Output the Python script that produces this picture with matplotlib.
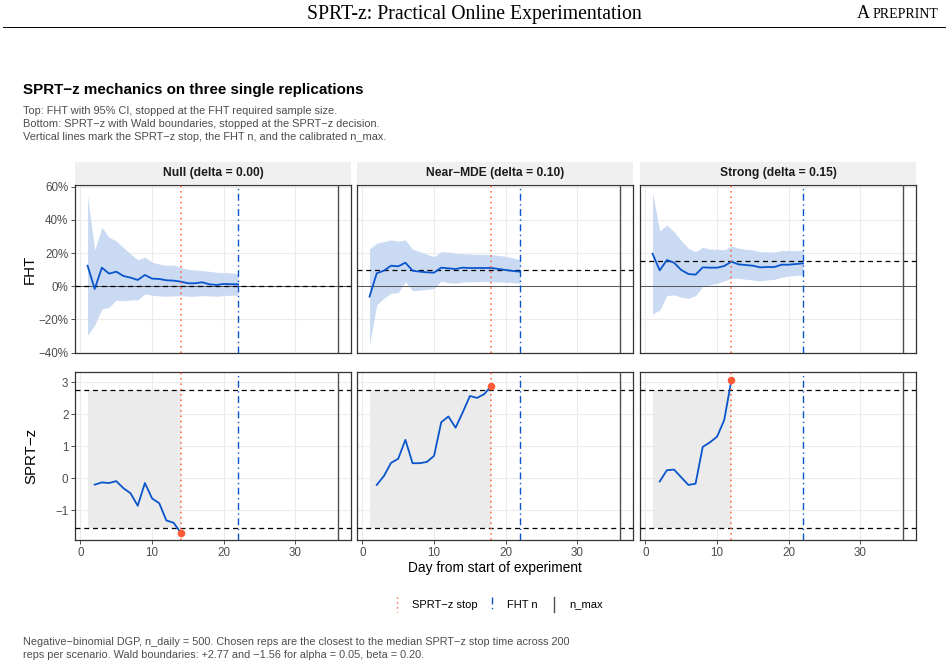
import numpy as np
import matplotlib.pyplot as plt
from matplotlib.lines import Line2D
from matplotlib.ticker import PercentFormatter

# ---- data ----
scenarios = ["Null (delta = 0.00)", "Near\u2212MDE (delta = 0.10)", "Strong (delta = 0.15)"]
deltas = [0.00, 0.10, 0.15]
stop_day = [14, 18, 12]
fht_n = [22, 22, 22]
n_max = 36
wald_upper = 2.77
wald_lower = -1.56

fht_days = list(range(1, 23))

null_est = [12.4, -1.6, 11.2, 7.6, 8.8, 6.2, 5.2, 3.8, 6.8, 4.6, 4.4, 3.6, 3.4, 2.8, 1.8, 1.8, 2.4, 1.2, 0.8, 1.4, 1.2, 1.2]
null_hi = [54.6, 21.9, 35.5, 29.5, 27.3, 23.3, 19.5, 15.9, 17.5, 14.5, 13.4, 12.6, 12.8, 11.4, 10.2, 9.8, 9.4, 9.0, 8.4, 8.2, 8.0, 7.8]
null_lo = [-29.5, -23.3, -13.7, -12.7, -8.3, -8.7, -8.3, -8.1, -4.6, -5.4, -5.8, -6.0, -5.8, -5.6, -6.0, -6.0, -5.6, -5.8, -6.0, -5.6, -5.4, -5.4]

mde_est = [-6.2, 7.8, 9.4, 12.4, 12.0, 14.2, 9.4, 8.8, 8.4, 8.2, 11.2, 10.8, 10.4, 11.2, 11.0, 11.0, 11.0, 11.0, 10.4, 9.8, 9.2, 8.8]
mde_hi = [22.5, 25.9, 26.9, 27.9, 27.1, 27.9, 22.3, 20.8, 19.3, 17.8, 20.8, 20.6, 19.8, 19.6, 19.4, 19.2, 19.2, 19.0, 18.6, 18.0, 17.0, 16.0]
mde_lo = [-35.0, -11.3, -7.2, -4.2, -3.8, 2.8, -2.7, -2.3, -1.9, -1.3, 3.2, 2.2, 1.8, 2.6, 2.6, 2.8, 2.8, 2.8, 2.6, 2.4, 2.2, 1.8]

strong_est = [19.6, 9.6, 15.8, 14.2, 9.8, 7.4, 7.0, 11.4, 11.2, 11.2, 12.2, 14.8, 13.2, 12.8, 12.4, 11.4, 11.6, 11.6, 13.0, 13.0, 13.4, 13.8]
strong_hi = [56.4, 33.3, 36.9, 32.9, 27.5, 22.9, 20.8, 23.5, 22.3, 22.3, 21.9, 24.3, 22.9, 22.3, 21.9, 20.8, 20.8, 20.6, 21.5, 21.5, 21.5, 21.5]
strong_lo = [-16.7, -14.3, -5.6, -5.2, -6.6, -7.2, -5.6, -0.2, 0.8, 1.8, 3.2, 4.8, 4.8, 4.2, 3.8, 3.2, 3.8, 4.2, 5.4, 6.2, 6.6, 6.6]

null_z = [-0.20, -0.13, -0.15, -0.09, -0.31, -0.47, -0.86, -0.15, -0.63, -0.78, -1.32, -1.39, -1.70]
mde_z = [-0.21, 0.07, 0.48, 0.61, 1.20, 0.47, 0.47, 0.51, 0.70, 1.75, 1.93, 1.58, 2.06, 2.57, 2.51, 2.63, 2.89]
strong_z = [-0.10, 0.25, 0.27, 0.03, -0.21, -0.17, 0.98, 1.12, 1.30, 1.82, 3.07]

fht_est = [null_est, mde_est, strong_est]
fht_hi = [null_hi, mde_hi, strong_hi]
fht_lo = [null_lo, mde_lo, strong_lo]
sprt_z = [null_z, mde_z, strong_z]

# ---- styling ----
BLUE = "#0a55cc"
RIBBON = "#c9daf2"
RED = "#ff5a36"
NMAX = "#4d4d4d"
GRID = "#ebebeb"
TICK = "#4d4d4d"
STOP_LS = (0, (1, 2.5))
FHT_LS = (0, (5, 2.5, 1, 2.5))
FONT = "Liberation Sans"
plt.rcParams['font.family'] = [FONT, 'DejaVu Sans']

W, H = 948, 667
fig = plt.figure(figsize=(W / 100, H / 100), dpi=100)


def box(x0, y0, x1, y1):
    return [x0 / W, 1 - y1 / H, (x1 - x0) / W, (y1 - y0) / H]


cols = [(75, 351), (357, 633), (640, 916)]
top_y = (185, 353)
bot_y = (372, 540)
strip_y = (162, 184)


def style(ax):
    ax.set_facecolor("white")
    ax.grid(True, color=GRID, linewidth=0.8)
    ax.set_axisbelow(True)
    for s in ax.spines.values():
        s.set_color("#333333")
        s.set_linewidth(0.9)
    ax.tick_params(colors="#333333", labelcolor=TICK, labelsize=8.4,
                   length=2.75, width=0.6, pad=2)
    ax.set_xlim(-0.75, 37.75)
    ax.set_xticks([0, 10, 20, 30])


for i, (x0, x1) in enumerate(cols):
    days = np.array(fht_days)
    est = np.array(fht_est[i]) / 100
    lo = np.array(fht_lo[i]) / 100
    hi = np.array(fht_hi[i]) / 100

    # top row: FHT with CI
    ax = fig.add_axes(box(x0, top_y[0], x1, top_y[1]))
    style(ax)
    ax.fill_between(days, lo, hi, color=RIBBON, linewidth=0, zorder=1)
    ax.axhline(0, color="#555555", linewidth=0.7, zorder=2)
    ax.axhline(deltas[i], color="black", linestyle=(0, (4, 3)), linewidth=0.9, zorder=3)
    ax.plot(days, est, color=BLUE, linewidth=1.3, zorder=4)
    ax.axvline(stop_day[i], color=RED, linestyle=STOP_LS, linewidth=1.1, zorder=5)
    ax.axvline(fht_n[i], color=BLUE, linestyle=FHT_LS, linewidth=1.0, zorder=5)
    ax.axvline(n_max, color=NMAX, linewidth=1.0, zorder=5)
    ax.set_ylim(-0.402, 0.61)
    ax.set_yticks([-0.4, -0.2, 0, 0.2, 0.4, 0.6])
    ax.yaxis.set_major_formatter(PercentFormatter(xmax=1, decimals=0))
    ax.tick_params(axis="x", labelbottom=False, length=0)
    if i == 0:
        ax.set_ylabel("FHT", fontsize=10.8, labelpad=1)
    else:
        ax.tick_params(axis="y", labelleft=False, length=0)

    # strip header
    sax = fig.add_axes(box(x0, strip_y[0], x1, strip_y[1]))
    sax.set_facecolor("#f0f0f0")
    sax.set_xticks([])
    sax.set_yticks([])
    for s in sax.spines.values():
        s.set_visible(False)
    sax.text(0.5, 0.5, scenarios[i], ha="center", va="center",
             fontsize=8.7, fontweight="bold", color="#1a1a1a", transform=sax.transAxes)

    # bottom row: SPRT-z path
    bx = fig.add_axes(box(x0, bot_y[0], x1, bot_y[1]))
    style(bx)
    zdays = np.arange(2, 2 + len(sprt_z[i]))
    bx.fill_between([1, stop_day[i]], wald_lower, wald_upper, color="#ebebeb",
                    linewidth=0, zorder=1)
    bx.axhline(wald_upper, color="black", linestyle=(0, (4, 3)), linewidth=0.9, zorder=3)
    bx.axhline(wald_lower, color="black", linestyle=(0, (4, 3)), linewidth=0.9, zorder=3)
    bx.plot(zdays, sprt_z[i], color=BLUE, linewidth=1.3, zorder=4)
    bx.axvline(stop_day[i], color=RED, linestyle=STOP_LS, linewidth=1.1, zorder=5)
    bx.axvline(fht_n[i], color=BLUE, linestyle=FHT_LS, linewidth=1.0, zorder=5)
    bx.axvline(n_max, color=NMAX, linewidth=1.0, zorder=5)
    bx.scatter([zdays[-1]], [sprt_z[i][-1]], s=30, color=RED, zorder=6, linewidths=0)
    bx.set_ylim(-1.93, 3.32)
    bx.set_yticks([-1, 0, 1, 2, 3])
    if i == 0:
        bx.set_ylabel("SPRT\u2212z", fontsize=10.8, labelpad=12)
    else:
        bx.tick_params(axis="y", labelleft=False, length=0)
    if i == 1:
        bx.set_xlabel("Day from start of experiment", fontsize=9.9, labelpad=2)

# ---- page header ----
fig.text(474 / W, 1 - 14 / H, "SPRT-z: Practical Online Experimentation", ha="center", va="center",
         fontsize=14.2, family="Liberation Serif")
fig.text(870 / W, 1 - 14 / H, "A", ha="right", va="center", fontsize=13, family="Liberation Serif")
fig.text(873 / W, 1 - 14.5 / H, "PREPRINT", ha="left", va="center", fontsize=10, family="Liberation Serif")
fig.add_artist(Line2D([3 / W, 945 / W], [1 - 27 / H, 1 - 27 / H], color="black", linewidth=0.7))

# ---- title, subtitle, caption ----
fig.text(23 / W, 1 - 90 / H, "SPRT\u2212z mechanics on three single replications", ha="left", va="center",
         fontsize=10.9, fontweight="bold", color="black")
subtitle = ["Top: FHT with 95% CI, stopped at the FHT required sample size.",
            "Bottom: SPRT\u2212z with Wald boundaries, stopped at the SPRT\u2212z decision.",
            "Vertical lines mark the SPRT\u2212z stop, the FHT n, and the calibrated n_max."]
for k, line in enumerate(subtitle):
    fig.text(23 / W, 1 - (111 + 13 * k) / H, line, ha="left", va="center", fontsize=7.95, color="#4d4d4d")

caption = ["Negative\u2212binomial DGP, n_daily = 500. Chosen reps are the closest to the median SPRT\u2212z stop time across 200",
           "reps per scenario. Wald boundaries: +2.77 and \u22121.56 for alpha = 0.05, beta = 0.20."]
for k, line in enumerate(caption):
    fig.text(23 / W, 1 - (642 + 13 * k) / H, line, ha="left", va="center", fontsize=7.85, color="#4d4d4d")

# ---- legend ----
legend_items = [("SPRT\u2212z stop", RED, STOP_LS, 397, 412),
                ("FHT n", BLUE, FHT_LS, 492, 507),
                ("n_max", NMAX, "-", 554, 569)]
for label, color, ls, kx, tx in legend_items:
    fig.add_artist(Line2D([kx / W, kx / W], [1 - 597 / H, 1 - 612 / H], color=color,
                          linestyle=ls, linewidth=1.0))
    fig.text(tx / W, 1 - 604.5 / H, label, ha="left", va="center", fontsize=8.0, color="black")

fig.savefig("out.png", dpi=100)
